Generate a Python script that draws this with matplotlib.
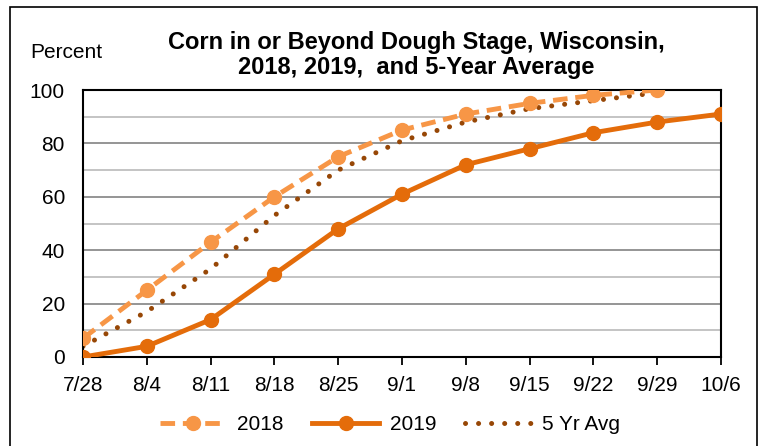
import matplotlib.pyplot as plt
from matplotlib.patches import Rectangle

plt.rcParams['font.family'] = ['Liberation Sans', 'DejaVu Sans']

weeks = ['7/28', '8/4', '8/11', '8/18', '8/25', '9/1', '9/8', '9/15', '9/22', '9/29', '10/6']
y2018 = [7, 25, 43, 60, 75, 85, 91, 95, 98, 100]
y2019 = [0, 4, 14, 31, 48, 61, 72, 78, 84, 88, 91]
avg5 = [4, 17, 33, 53, 70, 81, 88, 93, 96, 99]

fig = plt.figure(figsize=(7.64, 4.46), dpi=100)
ax = fig.add_axes([83/764, 1 - 357/446, (721 - 83)/764, (357 - 90)/446])

x = range(len(weeks))
ax.plot(x[:len(y2018)], y2018, color='#F79646', lw=3.5, ls=(0, (3, 1.6)),
        marker='o', ms=10, label='2018', zorder=3)
ax.plot(x, y2019, color='#E46C0A', lw=3.5, marker='o', ms=10, label='2019', zorder=4)
ax.plot(x[:len(avg5)], avg5, color='#974706', lw=3.6, ls=(0, (0.01, 2.6)),
        dash_capstyle='round', label='5 Yr Avg', zorder=2)

ax.set_xlim(0, len(weeks) - 1)
ax.set_ylim(0, 100)
ax.set_xticks(list(x))
ax.set_xticklabels(weeks)
ax.set_yticks(range(0, 101, 20))
ax.set_yticks(range(10, 100, 20), minor=True)
ax.grid(axis='y', which='major', color='#8c8c8c', lw=1.3)
ax.grid(axis='y', which='minor', color='#bfbfbf', lw=1.3)
ax.set_axisbelow(True)
ax.tick_params(axis='x', direction='out', length=6, width=1.3, labelsize=15, pad=8)
ax.tick_params(axis='y', which='both', length=0, labelsize=15, pad=13)
for s in ax.spines.values():
    s.set_linewidth(1.5)
    s.set_color('black')

fig.text(30/764, 1 - 53/446, 'Percent', fontsize=15, va='center', ha='left')
fig.text(416/764, 1 - 55/446, 'Corn in or Beyond Dough Stage, Wisconsin,\n2018, 2019,  and 5-Year Average',
         fontsize=17, fontweight='bold', ha='center', va='center', linespacing=1.12)

fig.legend(loc='center', bbox_to_anchor=(390/764, 1 - 425/446), ncol=3, frameon=False,
           fontsize=15, handlelength=3.2, columnspacing=1.4, handletextpad=0.5)

fig.patches.append(Rectangle((10/764, -0.05), (757 - 10)/764, 1.05 - 7/446,
                             transform=fig.transFigure, fill=False, ec='black', lw=1.2))

fig.savefig('out.png', dpi=100)
